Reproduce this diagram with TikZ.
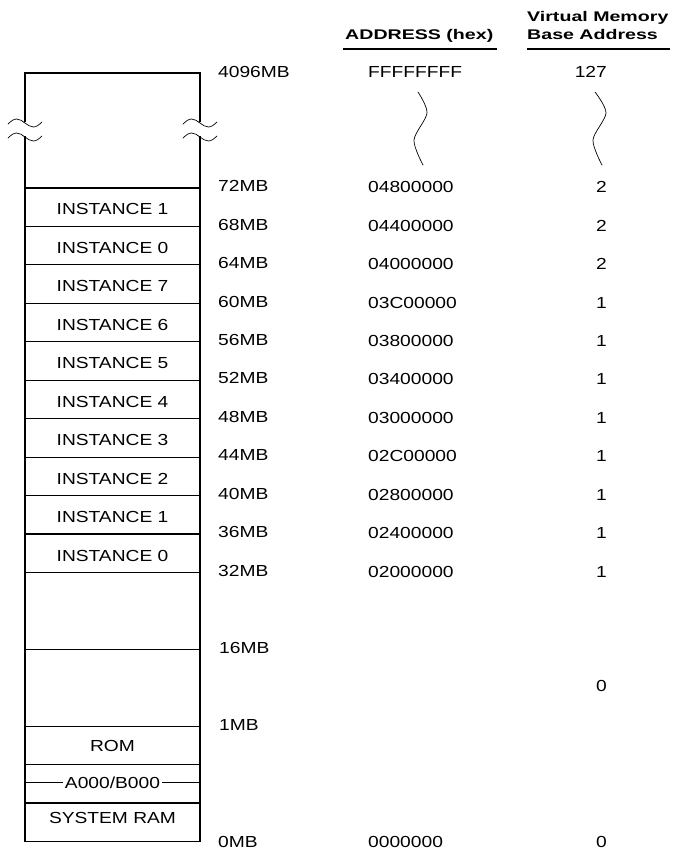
\documentclass[tikz,border=0pt]{standalone}
\usepackage{fontspec}
\setmainfont{Liberation Sans}[FakeStretch=1.2]
\newfontfamily\hdrfont{Liberation Sans}[FakeStretch=1.4]
\usepackage{tikz}
\tikzset{
  rowline/.style={line width=1.1pt},
  thinrow/.style={line width=0.6pt},
  cell/.style={inner sep=0pt, text height=11.5pt, text depth=0pt,
    font=\fontsize{16}{18}\selectfont},
  mbtag/.style={cell, anchor=west},
  hextag/.style={cell, anchor=west},
  basetag/.style={cell, anchor=east},
  hdr/.style={inner sep=0pt, anchor=west, text height=10pt, text depth=0pt,
    font=\hdrfont\bfseries\fontsize{14}{16}\selectfont},
  squiggle/.style={line width=0.7pt, line cap=round}
}

\begin{document}
\begin{tikzpicture}[x=1pt, y=-1pt]
  \useasboundingbox (0,0) rectangle (676,852);

  % Headings
  \node[hdr] (hdrhex) at (345,34.5) {ADDRESS (hex)};
  \node[hdr] (hdrvm) at (527,16.5) {Virtual Memory};
  \node[hdr] (hdrbase) at (527,34.5) {Base Address};
  \draw[line width=2pt] (343,49) -- (497,49);
  \draw[line width=2pt] (527,49) -- (670,49);

  % Memory column: outline with break marks
  \draw[rowline] (25,122) -- (25,73) -- (200,73) -- (200,122);
  \draw[rowline] (25,136) -- (25,841.5) -- (200,841.5) -- (200,136);
  \draw[squiggle] (8,124) sin (16.5,119) cos (25,123) sin (33.5,127) cos (42,122);
  \draw[squiggle] (8,138) sin (16.5,133) cos (25,137) sin (33.5,141) cos (42,136);
  \draw[squiggle] (183,124) sin (191.5,119) cos (200,123) sin (208.5,127) cos (217,122);
  \draw[squiggle] (183,138) sin (191.5,133) cos (200,137) sin (208.5,141) cos (217,136);

  % Row boundaries
  \draw[rowline] (25,188) -- (200,188);
  \draw[rowline] (25,226.4) -- (200,226.4);
  \draw[rowline] (25,264.9) -- (200,264.9);
  \draw[thinrow] (25,303.3) -- (200,303.3);
  \draw[rowline] (25,341.8) -- (200,341.8);
  \draw[rowline] (25,380.2) -- (200,380.2);
  \draw[rowline] (25,418.6) -- (200,418.6);
  \draw[rowline] (25,457.1) -- (200,457.1);
  \draw[thinrow] (25,495.5) -- (200,495.5);
  \draw[rowline] (25,534) -- (200,534);
  \draw[rowline] (25,572.4) -- (200,572.4);
  \draw[rowline] (25,649.3) -- (200,649.3);
  \draw[rowline] (25,726.2) -- (200,726.2);
  \draw[thinrow] (25,764.6) -- (200,764.6);
  \draw[rowline] (25,803) -- (200,803);

  % Row contents
  \node[cell] (inst1b) at (112.5,209) {INSTANCE 1};
  \node[cell] (inst0b) at (112.5,247.5) {INSTANCE 0};
  \node[cell] (inst7) at (112.5,286) {INSTANCE 7};
  \node[cell] (inst6) at (112.5,324.5) {INSTANCE 6};
  \node[cell] (inst5) at (112.5,363) {INSTANCE 5};
  \node[cell] (inst4) at (112.5,401.5) {INSTANCE 4};
  \node[cell] (inst3) at (112.5,440) {INSTANCE 3};
  \node[cell] (inst2) at (112.5,478.5) {INSTANCE 2};
  \node[cell] (inst1a) at (112.5,517) {INSTANCE 1};
  \node[cell] (inst0a) at (112.5,555.5) {INSTANCE 0};
  \node[cell] (rom) at (112.5,746) {ROM};
  \node[cell, inner xsep=2pt] (vga) at (112.5,782.5) {A000/B000};
  \draw[thinrow] (25,782.5) -- (vga.west);
  \draw[thinrow] (vga.east) -- (200,782.5);
  \node[cell] (sysram) at (112.5,818) {SYSTEM RAM};

  % Megabyte marks
  \node[mbtag] (mb4096) at (218,72) {4096MB};
  \node[mbtag] (mb72) at (218,186) {72MB};
  \node[mbtag] (mb68) at (218,224.4) {68MB};
  \node[mbtag] (mb64) at (218,262.9) {64MB};
  \node[mbtag] (mb60) at (218,301.3) {60MB};
  \node[mbtag] (mb56) at (218,339.8) {56MB};
  \node[mbtag] (mb52) at (218,378.2) {52MB};
  \node[mbtag] (mb48) at (218,416.6) {48MB};
  \node[mbtag] (mb44) at (218,455.1) {44MB};
  \node[mbtag] (mb40) at (218,493.5) {40MB};
  \node[mbtag] (mb36) at (218,532) {36MB};
  \node[mbtag] (mb32) at (218,570.4) {32MB};
  \node[mbtag] (mb16) at (219,648) {16MB};
  \node[mbtag] (mb1) at (219,724.5) {1MB};
  \node[mbtag] (mb0) at (218,842) {0MB};

  % Addresses
  \node[hextag] (hex4096) at (368,72) {FFFFFFFF};
  \node[hextag] (hex72) at (368,187) {04800000};
  \node[hextag] (hex68) at (368,225.4) {04400000};
  \node[hextag] (hex64) at (368,263.9) {04000000};
  \node[hextag] (hex60) at (368,302.3) {03C00000};
  \node[hextag] (hex56) at (368,340.8) {03800000};
  \node[hextag] (hex52) at (368,379.2) {03400000};
  \node[hextag] (hex48) at (368,417.6) {03000000};
  \node[hextag] (hex44) at (368,456.1) {02C00000};
  \node[hextag] (hex40) at (368,494.5) {02800000};
  \node[hextag] (hex36) at (368,533) {02400000};
  \node[hextag] (hex32) at (368,571.4) {02000000};
  \node[hextag] (hex0) at (368,842) {0000000};

  % Base addresses
  \node[basetag] (base4096) at (607,72) {127};
  \node[basetag] (base72) at (607,187) {2};
  \node[basetag] (base68) at (607,225.4) {2};
  \node[basetag] (base64) at (607,263.9) {2};
  \node[basetag] (base60) at (607,302.3) {1};
  \node[basetag] (base56) at (607,340.8) {1};
  \node[basetag] (base52) at (607,379.2) {1};
  \node[basetag] (base48) at (607,417.6) {1};
  \node[basetag] (base44) at (607,456.1) {1};
  \node[basetag] (base40) at (607,494.5) {1};
  \node[basetag] (base36) at (607,533) {1};
  \node[basetag] (base32) at (607,571.4) {1};
  \node[basetag] (base16) at (607,686) {0};
  \node[basetag] (base0) at (607,842) {0};

  % Gaps in the columns
  \draw[squiggle] plot[smooth] coordinates {(418,92) (427,113) (414,140) (423,165)};
  \draw[squiggle] plot[smooth] coordinates {(595,92) (606,113) (593,140) (602,165)};
\end{tikzpicture}
\end{document}
